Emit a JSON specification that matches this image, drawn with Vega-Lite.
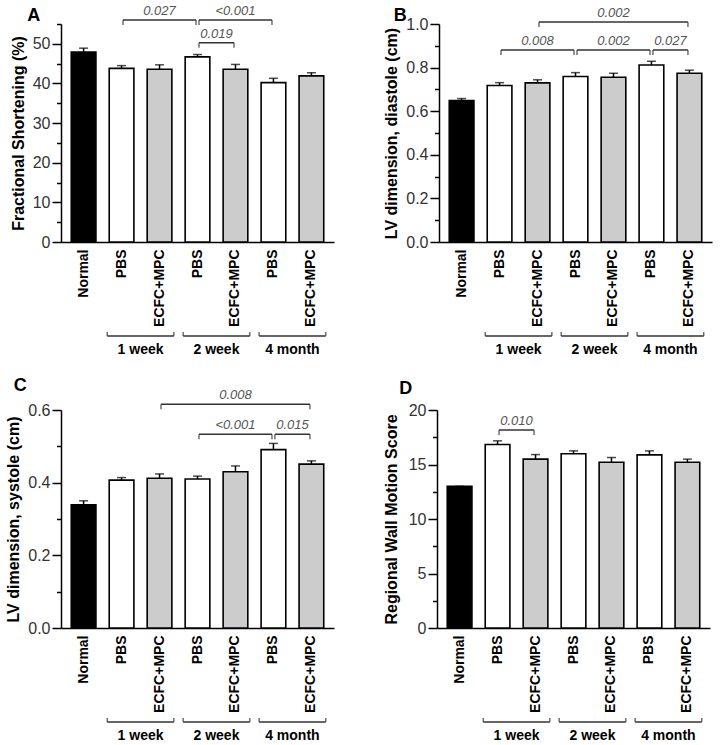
{
  "$schema": "https://vega.github.io/schema/vega-lite/v6.json",
  "padding": {"left": 5, "top": 5, "right": 5, "bottom": 2},
  "background": "white",
  "config": {
    "font": "Liberation Sans",
    "view": {"stroke": null},
    "axis": {"labelFont": "Liberation Sans", "titleFont": "Liberation Sans"},
    "title": {"font": "Liberation Sans"}
  },
  "datasets": {
    "bars": [
      {"panel": "A", "id": "Normal", "treatment": "Normal", "mean": 47.9, "upper": 48.9},
      {"panel": "A", "id": "PBS (1 week)", "treatment": "PBS", "mean": 43.8, "upper": 44.5},
      {"panel": "A", "id": "ECFC+MPC (1 week)", "treatment": "ECFC+MPC", "mean": 43.6, "upper": 44.7},
      {"panel": "A", "id": "PBS (2 week)", "treatment": "PBS", "mean": 46.7, "upper": 47.3},
      {"panel": "A", "id": "ECFC+MPC (2 week)", "treatment": "ECFC+MPC", "mean": 43.6, "upper": 44.8},
      {"panel": "A", "id": "PBS (4 month)", "treatment": "PBS", "mean": 40.2, "upper": 41.3},
      {"panel": "A", "id": "ECFC+MPC (4 month)", "treatment": "ECFC+MPC", "mean": 41.9, "upper": 42.7},
      {"panel": "B", "id": "Normal", "treatment": "Normal", "mean": 0.649, "upper": 0.658},
      {"panel": "B", "id": "PBS (1 week)", "treatment": "PBS", "mean": 0.718, "upper": 0.731},
      {"panel": "B", "id": "ECFC+MPC (1 week)", "treatment": "ECFC+MPC", "mean": 0.730, "upper": 0.744},
      {"panel": "B", "id": "PBS (2 week)", "treatment": "PBS", "mean": 0.759, "upper": 0.777},
      {"panel": "B", "id": "ECFC+MPC (2 week)", "treatment": "ECFC+MPC", "mean": 0.756, "upper": 0.774},
      {"panel": "B", "id": "PBS (4 month)", "treatment": "PBS", "mean": 0.812, "upper": 0.829},
      {"panel": "B", "id": "ECFC+MPC (4 month)", "treatment": "ECFC+MPC", "mean": 0.774, "upper": 0.788},
      {"panel": "C", "id": "Normal", "treatment": "Normal", "mean": 0.339, "upper": 0.350},
      {"panel": "C", "id": "PBS (1 week)", "treatment": "PBS", "mean": 0.407, "upper": 0.414},
      {"panel": "C", "id": "ECFC+MPC (1 week)", "treatment": "ECFC+MPC", "mean": 0.412, "upper": 0.424},
      {"panel": "C", "id": "PBS (2 week)", "treatment": "PBS", "mean": 0.410, "upper": 0.418},
      {"panel": "C", "id": "ECFC+MPC (2 week)", "treatment": "ECFC+MPC", "mean": 0.430, "upper": 0.446},
      {"panel": "C", "id": "PBS (4 month)", "treatment": "PBS", "mean": 0.491, "upper": 0.508},
      {"panel": "C", "id": "ECFC+MPC (4 month)", "treatment": "ECFC+MPC", "mean": 0.451, "upper": 0.460},
      {"panel": "D", "id": "Normal", "treatment": "Normal", "mean": 13.0, "upper": 13.0},
      {"panel": "D", "id": "PBS (1 week)", "treatment": "PBS", "mean": 16.83, "upper": 17.17},
      {"panel": "D", "id": "ECFC+MPC (1 week)", "treatment": "ECFC+MPC", "mean": 15.49, "upper": 15.91},
      {"panel": "D", "id": "PBS (2 week)", "treatment": "PBS", "mean": 15.98, "upper": 16.25},
      {"panel": "D", "id": "ECFC+MPC (2 week)", "treatment": "ECFC+MPC", "mean": 15.21, "upper": 15.64},
      {"panel": "D", "id": "PBS (4 month)", "treatment": "PBS", "mean": 15.88, "upper": 16.25},
      {"panel": "D", "id": "ECFC+MPC (4 month)", "treatment": "ECFC+MPC", "mean": 15.21, "upper": 15.49}
    ],
    "brackets": [
      {"panel": "A", "label": "0.027", "start": "PBS (1 week)", "end": "PBS (2 week)", "span": 2, "level": 56.0},
      {"panel": "A", "label": "<0.001", "start": "PBS (2 week)", "end": "PBS (4 month)", "span": 2, "level": 56.0},
      {"panel": "A", "label": "0.019", "start": "PBS (2 week)", "end": "ECFC+MPC (2 week)", "span": 1, "level": 50.3},
      {"panel": "B", "label": "0.002", "start": "ECFC+MPC (1 week)", "end": "ECFC+MPC (4 month)", "span": 4, "level": 1.009},
      {"panel": "B", "label": "0.008", "start": "PBS (1 week)", "end": "PBS (2 week)", "span": 2, "level": 0.881},
      {"panel": "B", "label": "0.002", "start": "PBS (2 week)", "end": "PBS (4 month)", "span": 2, "level": 0.881},
      {"panel": "B", "label": "0.027", "start": "PBS (4 month)", "end": "ECFC+MPC (4 month)", "span": 1, "level": 0.881},
      {"panel": "C", "label": "0.008", "start": "ECFC+MPC (1 week)", "end": "ECFC+MPC (4 month)", "span": 4, "level": 0.616},
      {"panel": "C", "label": "<0.001", "start": "PBS (2 week)", "end": "PBS (4 month)", "span": 2, "level": 0.533},
      {"panel": "C", "label": "0.015", "start": "PBS (4 month)", "end": "ECFC+MPC (4 month)", "span": 1, "level": 0.533},
      {"panel": "D", "label": "0.010", "start": "PBS (1 week)", "end": "ECFC+MPC (1 week)", "span": 1, "level": 18.17}
    ],
    "groups": [
      {"group": "1 week", "start": "PBS (1 week)", "end": "ECFC+MPC (1 week)"},
      {"group": "2 week", "start": "PBS (2 week)", "end": "ECFC+MPC (2 week)"},
      {"group": "4 month", "start": "PBS (4 month)", "end": "ECFC+MPC (4 month)"}
    ]
  },
  "spacing": 20,
  "vconcat": [
    {
      "spacing": 49,
      "hconcat": [
        {
          "bounds": "flush",
          "spacing": 90,
          "vconcat": [
            {
              "width": 273, "height": 218,
              "title": {"text": "A", "anchor": "start", "frame": "bounds", "dx": 17, "fontSize": 18, "fontWeight": "bold", "color": "#000", "offset": -20},
              "resolve": {"axis": {"y": "independent"}},
              "layer": [
                {"data": {"name": "bars"}, "transform": [{"filter": "datum.panel === 'A'"}],
                 "mark": {"type": "bar", "stroke": "#000", "strokeWidth": 1.6},
                 "encoding": {
                   "x": {"field": "id", "type": "nominal", "title": null, "scale": {"type": "band", "domain": ["Normal","PBS (1 week)","ECFC+MPC (1 week)","PBS (2 week)","ECFC+MPC (2 week)","PBS (4 month)","ECFC+MPC (4 month)"], "paddingInner": 0.35, "paddingOuter": 0.27},
                         "axis": {"labelExpr": "split(datum.value, ' (')[0]", "labelAngle": -90, "labelFontWeight": "bold", "labelFontSize": 14, "labelColor": "#000", "ticks": false, "tickSize": 0, "labelPadding": 7, "domainWidth": 1.5, "domainColor": "#000", "title": null}},
                   "y": {"field": "mean", "type": "quantitative", "scale": {"domain": [0, 55], "nice": false},
                         "axis": {"orient": "left", "values": [0,10,20,30,40,50], "title": "Fractional Shortening (%)", "tickSize": 9, "tickWidth": 1.5, "tickColor": "#000", "domainWidth": 1.5, "domainColor": "#000", "labelFontSize": 16, "labelColor": "#333", "labelPadding": 2, "titleFontSize": 16, "titleFontWeight": "bold", "titleColor": "#000", "titlePadding": 6, "grid": false}},
                   "fill": {"field": "treatment", "type": "nominal", "scale": {"domain": ["Normal","PBS","ECFC+MPC"], "range": ["#000000","#ffffff","#cccccc"]}, "legend": null}
                 }},
                {"data": {"name": "bars"}, "transform": [{"filter": "datum.panel === 'A'"}],
                 "mark": {"type": "rule", "strokeWidth": 1.5, "color": "#000"},
                 "encoding": {
                   "x": {"field": "id", "type": "nominal", "title": null, "scale": {"type": "band", "domain": ["Normal","PBS (1 week)","ECFC+MPC (1 week)","PBS (2 week)","ECFC+MPC (2 week)","PBS (4 month)","ECFC+MPC (4 month)"], "paddingInner": 0.35, "paddingOuter": 0.27}},
                   "y": {"field": "mean", "type": "quantitative", "axis": {"orient": "left", "values": [5,15,25,35,45,55], "labels": false, "domain": false, "title": null, "tickSize": 4.5, "tickWidth": 1.5, "tickColor": "#000", "grid": false}},
                   "y2": {"field": "upper"}
                 }},
                {"data": {"name": "bars"}, "transform": [{"filter": "datum.panel === 'A'"}],
                 "mark": {"type": "tick", "orient": "horizontal", "size": 9, "thickness": 1.5, "color": "#000"},
                 "encoding": {
                   "x": {"field": "id", "type": "nominal", "title": null, "scale": {"type": "band", "domain": ["Normal","PBS (1 week)","ECFC+MPC (1 week)","PBS (2 week)","ECFC+MPC (2 week)","PBS (4 month)","ECFC+MPC (4 month)"], "paddingInner": 0.35, "paddingOuter": 0.27}},
                   "y": {"field": "upper", "type": "quantitative", "axis": null}
                 }},
                {"data": {"name": "brackets"}, "transform": [{"filter": "datum.panel === 'A'"}],
                 "mark": {"type": "rule", "strokeWidth": 1.5, "color": "#333"},
                 "encoding": {
                   "x": {"field": "start", "type": "nominal", "title": null, "bandPosition": 0.56, "scale": {"type": "band", "domain": ["Normal","PBS (1 week)","ECFC+MPC (1 week)","PBS (2 week)","ECFC+MPC (2 week)","PBS (4 month)","ECFC+MPC (4 month)"], "paddingInner": 0.35, "paddingOuter": 0.27}},
                   "x2": {"field": "end", "bandPosition": 0.44},
                   "y": {"field": "level", "type": "quantitative", "axis": null}
                 }},
                {"data": {"name": "brackets"}, "transform": [{"filter": "datum.panel === 'A'"}],
                 "mark": {"type": "tick", "orient": "vertical", "size": 5, "thickness": 1.5, "yOffset": 2.5, "color": "#333"},
                 "encoding": {
                   "x": {"field": "start", "type": "nominal", "title": null, "bandPosition": 0.56, "scale": {"type": "band", "domain": ["Normal","PBS (1 week)","ECFC+MPC (1 week)","PBS (2 week)","ECFC+MPC (2 week)","PBS (4 month)","ECFC+MPC (4 month)"], "paddingInner": 0.35, "paddingOuter": 0.27}},
                   "y": {"field": "level", "type": "quantitative", "axis": null}
                 }},
                {"data": {"name": "brackets"}, "transform": [{"filter": "datum.panel === 'A'"}],
                 "mark": {"type": "tick", "orient": "vertical", "size": 5, "thickness": 1.5, "yOffset": 2.5, "color": "#333"},
                 "encoding": {
                   "x": {"field": "end", "type": "nominal", "title": null, "bandPosition": 0.44, "scale": {"type": "band", "domain": ["Normal","PBS (1 week)","ECFC+MPC (1 week)","PBS (2 week)","ECFC+MPC (2 week)","PBS (4 month)","ECFC+MPC (4 month)"], "paddingInner": 0.35, "paddingOuter": 0.27}},
                   "y": {"field": "level", "type": "quantitative", "axis": null}
                 }},
                {"data": {"name": "brackets"}, "transform": [{"filter": "datum.panel === 'A' && datum.span === 1"}],
                 "mark": {"type": "text", "fontStyle": "italic", "fontSize": 13, "color": "#555", "dy": -9, "baseline": "middle"},
                 "encoding": {
                   "x": {"field": "start", "type": "nominal", "title": null, "bandPosition": 1.269, "scale": {"type": "band", "domain": ["Normal","PBS (1 week)","ECFC+MPC (1 week)","PBS (2 week)","ECFC+MPC (2 week)","PBS (4 month)","ECFC+MPC (4 month)"], "paddingInner": 0.35, "paddingOuter": 0.27}},
                   "y": {"field": "level", "type": "quantitative", "axis": null},
                   "text": {"field": "label"}
                 }},
                {"data": {"name": "brackets"}, "transform": [{"filter": "datum.panel === 'A' && datum.span === 2"}],
                 "mark": {"type": "text", "fontStyle": "italic", "fontSize": 13, "color": "#555", "dy": -9, "baseline": "middle"},
                 "encoding": {
                   "x": {"field": "start", "type": "nominal", "title": null, "bandPosition": 2.038, "scale": {"type": "band", "domain": ["Normal","PBS (1 week)","ECFC+MPC (1 week)","PBS (2 week)","ECFC+MPC (2 week)","PBS (4 month)","ECFC+MPC (4 month)"], "paddingInner": 0.35, "paddingOuter": 0.27}},
                   "y": {"field": "level", "type": "quantitative", "axis": null},
                   "text": {"field": "label"}
                 }}
              ]
            },
            {
              "width": 273, "height": 8,
              "data": {"name": "groups"},
              "layer": [
                {"mark": {"type": "rule", "strokeWidth": 1.5, "color": "#333"},
                 "encoding": {"x": {"field": "start", "type": "nominal", "bandPosition": -0.08, "axis": null, "scale": {"type": "band", "domain": ["Normal","PBS (1 week)","ECFC+MPC (1 week)","PBS (2 week)","ECFC+MPC (2 week)","PBS (4 month)","ECFC+MPC (4 month)"], "paddingInner": 0.35, "paddingOuter": 0.27}},
                              "x2": {"field": "end", "bandPosition": 1.08}}},
                {"mark": {"type": "tick", "orient": "vertical", "size": 4, "thickness": 1.5, "yOffset": -2, "color": "#333"},
                 "encoding": {"x": {"field": "start", "type": "nominal", "bandPosition": -0.08, "axis": null, "scale": {"type": "band", "domain": ["Normal","PBS (1 week)","ECFC+MPC (1 week)","PBS (2 week)","ECFC+MPC (2 week)","PBS (4 month)","ECFC+MPC (4 month)"], "paddingInner": 0.35, "paddingOuter": 0.27}}}},
                {"mark": {"type": "tick", "orient": "vertical", "size": 4, "thickness": 1.5, "yOffset": -2, "color": "#333"},
                 "encoding": {"x": {"field": "end", "type": "nominal", "bandPosition": 1.08, "axis": null, "scale": {"type": "band", "domain": ["Normal","PBS (1 week)","ECFC+MPC (1 week)","PBS (2 week)","ECFC+MPC (2 week)","PBS (4 month)","ECFC+MPC (4 month)"], "paddingInner": 0.35, "paddingOuter": 0.27}}}},
                {"mark": {"type": "text", "fontWeight": "bold", "fontSize": 14, "dy": 14, "color": "#000"},
                 "encoding": {"x": {"field": "start", "type": "nominal", "bandPosition": 1.269, "axis": null, "scale": {"type": "band", "domain": ["Normal","PBS (1 week)","ECFC+MPC (1 week)","PBS (2 week)","ECFC+MPC (2 week)","PBS (4 month)","ECFC+MPC (4 month)"], "paddingInner": 0.35, "paddingOuter": 0.27}},
                              "text": {"field": "group"}}}
              ]
            }
          ]
        },
        {
          "bounds": "flush",
          "spacing": 90,
          "vconcat": [
            {
              "width": 273, "height": 218,
              "title": {"text": "B", "anchor": "start", "frame": "bounds", "dx": 10, "fontSize": 18, "fontWeight": "bold", "color": "#000", "offset": -18},
              "resolve": {"axis": {"y": "independent"}},
              "layer": [
                {"data": {"name": "bars"}, "transform": [{"filter": "datum.panel === 'B'"}],
                 "mark": {"type": "bar", "stroke": "#000", "strokeWidth": 1.6},
                 "encoding": {
                   "x": {"field": "id", "type": "nominal", "title": null, "scale": {"type": "band", "domain": ["Normal","PBS (1 week)","ECFC+MPC (1 week)","PBS (2 week)","ECFC+MPC (2 week)","PBS (4 month)","ECFC+MPC (4 month)"], "paddingInner": 0.35, "paddingOuter": 0.27},
                         "axis": {"labelExpr": "split(datum.value, ' (')[0]", "labelAngle": -90, "labelFontWeight": "bold", "labelFontSize": 14, "labelColor": "#000", "ticks": false, "tickSize": 0, "labelPadding": 7, "domainWidth": 1.5, "domainColor": "#000", "title": null}},
                   "y": {"field": "mean", "type": "quantitative", "scale": {"domain": [0, 1], "nice": false},
                         "axis": {"orient": "left", "values": [0,0.2,0.4,0.6,0.8,1.0], "format": ".1f", "title": "LV dimension, diastole (cm)", "tickSize": 9, "tickWidth": 1.5, "tickColor": "#000", "domainWidth": 1.5, "domainColor": "#000", "labelFontSize": 16, "labelColor": "#333", "labelPadding": 2, "titleFontSize": 16, "titleFontWeight": "bold", "titleColor": "#000", "titlePadding": 6, "grid": false}},
                   "fill": {"field": "treatment", "type": "nominal", "scale": {"domain": ["Normal","PBS","ECFC+MPC"], "range": ["#000000","#ffffff","#cccccc"]}, "legend": null}
                 }},
                {"data": {"name": "bars"}, "transform": [{"filter": "datum.panel === 'B'"}],
                 "mark": {"type": "rule", "strokeWidth": 1.5, "color": "#000"},
                 "encoding": {
                   "x": {"field": "id", "type": "nominal", "title": null, "scale": {"type": "band", "domain": ["Normal","PBS (1 week)","ECFC+MPC (1 week)","PBS (2 week)","ECFC+MPC (2 week)","PBS (4 month)","ECFC+MPC (4 month)"], "paddingInner": 0.35, "paddingOuter": 0.27}},
                   "y": {"field": "mean", "type": "quantitative", "axis": {"orient": "left", "values": [0.1,0.3,0.5,0.7,0.9], "labels": false, "domain": false, "title": null, "tickSize": 4.5, "tickWidth": 1.5, "tickColor": "#000", "grid": false}},
                   "y2": {"field": "upper"}
                 }},
                {"data": {"name": "bars"}, "transform": [{"filter": "datum.panel === 'B'"}],
                 "mark": {"type": "tick", "orient": "horizontal", "size": 9, "thickness": 1.5, "color": "#000"},
                 "encoding": {
                   "x": {"field": "id", "type": "nominal", "title": null, "scale": {"type": "band", "domain": ["Normal","PBS (1 week)","ECFC+MPC (1 week)","PBS (2 week)","ECFC+MPC (2 week)","PBS (4 month)","ECFC+MPC (4 month)"], "paddingInner": 0.35, "paddingOuter": 0.27}},
                   "y": {"field": "upper", "type": "quantitative", "axis": null}
                 }},
                {"data": {"name": "brackets"}, "transform": [{"filter": "datum.panel === 'B'"}],
                 "mark": {"type": "rule", "strokeWidth": 1.5, "color": "#333"},
                 "encoding": {
                   "x": {"field": "start", "type": "nominal", "title": null, "bandPosition": 0.56, "scale": {"type": "band", "domain": ["Normal","PBS (1 week)","ECFC+MPC (1 week)","PBS (2 week)","ECFC+MPC (2 week)","PBS (4 month)","ECFC+MPC (4 month)"], "paddingInner": 0.35, "paddingOuter": 0.27}},
                   "x2": {"field": "end", "bandPosition": 0.44},
                   "y": {"field": "level", "type": "quantitative", "axis": null}
                 }},
                {"data": {"name": "brackets"}, "transform": [{"filter": "datum.panel === 'B'"}],
                 "mark": {"type": "tick", "orient": "vertical", "size": 5, "thickness": 1.5, "yOffset": 2.5, "color": "#333"},
                 "encoding": {
                   "x": {"field": "start", "type": "nominal", "title": null, "bandPosition": 0.56, "scale": {"type": "band", "domain": ["Normal","PBS (1 week)","ECFC+MPC (1 week)","PBS (2 week)","ECFC+MPC (2 week)","PBS (4 month)","ECFC+MPC (4 month)"], "paddingInner": 0.35, "paddingOuter": 0.27}},
                   "y": {"field": "level", "type": "quantitative", "axis": null}
                 }},
                {"data": {"name": "brackets"}, "transform": [{"filter": "datum.panel === 'B'"}],
                 "mark": {"type": "tick", "orient": "vertical", "size": 5, "thickness": 1.5, "yOffset": 2.5, "color": "#333"},
                 "encoding": {
                   "x": {"field": "end", "type": "nominal", "title": null, "bandPosition": 0.44, "scale": {"type": "band", "domain": ["Normal","PBS (1 week)","ECFC+MPC (1 week)","PBS (2 week)","ECFC+MPC (2 week)","PBS (4 month)","ECFC+MPC (4 month)"], "paddingInner": 0.35, "paddingOuter": 0.27}},
                   "y": {"field": "level", "type": "quantitative", "axis": null}
                 }},
                {"data": {"name": "brackets"}, "transform": [{"filter": "datum.panel === 'B' && datum.span === 1"}],
                 "mark": {"type": "text", "fontStyle": "italic", "fontSize": 13, "color": "#555", "dy": -9, "baseline": "middle"},
                 "encoding": {
                   "x": {"field": "start", "type": "nominal", "title": null, "bandPosition": 1.269, "scale": {"type": "band", "domain": ["Normal","PBS (1 week)","ECFC+MPC (1 week)","PBS (2 week)","ECFC+MPC (2 week)","PBS (4 month)","ECFC+MPC (4 month)"], "paddingInner": 0.35, "paddingOuter": 0.27}},
                   "y": {"field": "level", "type": "quantitative", "axis": null},
                   "text": {"field": "label"}
                 }},
                {"data": {"name": "brackets"}, "transform": [{"filter": "datum.panel === 'B' && datum.span === 2"}],
                 "mark": {"type": "text", "fontStyle": "italic", "fontSize": 13, "color": "#555", "dy": -9, "baseline": "middle"},
                 "encoding": {
                   "x": {"field": "start", "type": "nominal", "title": null, "bandPosition": 2.038, "scale": {"type": "band", "domain": ["Normal","PBS (1 week)","ECFC+MPC (1 week)","PBS (2 week)","ECFC+MPC (2 week)","PBS (4 month)","ECFC+MPC (4 month)"], "paddingInner": 0.35, "paddingOuter": 0.27}},
                   "y": {"field": "level", "type": "quantitative", "axis": null},
                   "text": {"field": "label"}
                 }},
                {"data": {"name": "brackets"}, "transform": [{"filter": "datum.panel === 'B' && datum.span === 4"}],
                 "mark": {"type": "text", "fontStyle": "italic", "fontSize": 13, "color": "#555", "dy": -9, "baseline": "middle"},
                 "encoding": {
                   "x": {"field": "start", "type": "nominal", "title": null, "bandPosition": 3.577, "scale": {"type": "band", "domain": ["Normal","PBS (1 week)","ECFC+MPC (1 week)","PBS (2 week)","ECFC+MPC (2 week)","PBS (4 month)","ECFC+MPC (4 month)"], "paddingInner": 0.35, "paddingOuter": 0.27}},
                   "y": {"field": "level", "type": "quantitative", "axis": null},
                   "text": {"field": "label"}
                 }}
              ]
            },
            {
              "width": 273, "height": 8,
              "data": {"name": "groups"},
              "layer": [
                {"mark": {"type": "rule", "strokeWidth": 1.5, "color": "#333"},
                 "encoding": {"x": {"field": "start", "type": "nominal", "bandPosition": -0.08, "axis": null, "scale": {"type": "band", "domain": ["Normal","PBS (1 week)","ECFC+MPC (1 week)","PBS (2 week)","ECFC+MPC (2 week)","PBS (4 month)","ECFC+MPC (4 month)"], "paddingInner": 0.35, "paddingOuter": 0.27}},
                              "x2": {"field": "end", "bandPosition": 1.08}}},
                {"mark": {"type": "tick", "orient": "vertical", "size": 4, "thickness": 1.5, "yOffset": -2, "color": "#333"},
                 "encoding": {"x": {"field": "start", "type": "nominal", "bandPosition": -0.08, "axis": null, "scale": {"type": "band", "domain": ["Normal","PBS (1 week)","ECFC+MPC (1 week)","PBS (2 week)","ECFC+MPC (2 week)","PBS (4 month)","ECFC+MPC (4 month)"], "paddingInner": 0.35, "paddingOuter": 0.27}}}},
                {"mark": {"type": "tick", "orient": "vertical", "size": 4, "thickness": 1.5, "yOffset": -2, "color": "#333"},
                 "encoding": {"x": {"field": "end", "type": "nominal", "bandPosition": 1.08, "axis": null, "scale": {"type": "band", "domain": ["Normal","PBS (1 week)","ECFC+MPC (1 week)","PBS (2 week)","ECFC+MPC (2 week)","PBS (4 month)","ECFC+MPC (4 month)"], "paddingInner": 0.35, "paddingOuter": 0.27}}}},
                {"mark": {"type": "text", "fontWeight": "bold", "fontSize": 14, "dy": 14, "color": "#000"},
                 "encoding": {"x": {"field": "start", "type": "nominal", "bandPosition": 1.269, "axis": null, "scale": {"type": "band", "domain": ["Normal","PBS (1 week)","ECFC+MPC (1 week)","PBS (2 week)","ECFC+MPC (2 week)","PBS (4 month)","ECFC+MPC (4 month)"], "paddingInner": 0.35, "paddingOuter": 0.27}},
                              "text": {"field": "group"}}}
              ]
            }
          ]
        }
      ]
    },
    {
      "spacing": 49,
      "hconcat": [
        {
          "bounds": "flush",
          "spacing": 90,
          "vconcat": [
            {
              "width": 273, "height": 218,
              "title": {"text": "C", "anchor": "start", "frame": "bounds", "dx": 8, "fontSize": 18, "fontWeight": "bold", "color": "#000", "offset": -6},
              "resolve": {"axis": {"y": "independent"}},
              "layer": [
                {"data": {"name": "bars"}, "transform": [{"filter": "datum.panel === 'C'"}],
                 "mark": {"type": "bar", "stroke": "#000", "strokeWidth": 1.6},
                 "encoding": {
                   "x": {"field": "id", "type": "nominal", "title": null, "scale": {"type": "band", "domain": ["Normal","PBS (1 week)","ECFC+MPC (1 week)","PBS (2 week)","ECFC+MPC (2 week)","PBS (4 month)","ECFC+MPC (4 month)"], "paddingInner": 0.35, "paddingOuter": 0.27},
                         "axis": {"labelExpr": "split(datum.value, ' (')[0]", "labelAngle": -90, "labelFontWeight": "bold", "labelFontSize": 14, "labelColor": "#000", "ticks": false, "tickSize": 0, "labelPadding": 7, "domainWidth": 1.5, "domainColor": "#000", "title": null}},
                   "y": {"field": "mean", "type": "quantitative", "scale": {"domain": [0, 0.6], "nice": false},
                         "axis": {"orient": "left", "values": [0,0.2,0.4,0.6], "format": ".1f", "title": "LV dimension, systole (cm)", "tickSize": 9, "tickWidth": 1.5, "tickColor": "#000", "domainWidth": 1.5, "domainColor": "#000", "labelFontSize": 16, "labelColor": "#333", "labelPadding": 2, "titleFontSize": 16, "titleFontWeight": "bold", "titleColor": "#000", "titlePadding": 6, "grid": false}},
                   "fill": {"field": "treatment", "type": "nominal", "scale": {"domain": ["Normal","PBS","ECFC+MPC"], "range": ["#000000","#ffffff","#cccccc"]}, "legend": null}
                 }},
                {"data": {"name": "bars"}, "transform": [{"filter": "datum.panel === 'C'"}],
                 "mark": {"type": "rule", "strokeWidth": 1.5, "color": "#000"},
                 "encoding": {
                   "x": {"field": "id", "type": "nominal", "title": null, "scale": {"type": "band", "domain": ["Normal","PBS (1 week)","ECFC+MPC (1 week)","PBS (2 week)","ECFC+MPC (2 week)","PBS (4 month)","ECFC+MPC (4 month)"], "paddingInner": 0.35, "paddingOuter": 0.27}},
                   "y": {"field": "mean", "type": "quantitative", "axis": {"orient": "left", "values": [0.1,0.3,0.5], "labels": false, "domain": false, "title": null, "tickSize": 4.5, "tickWidth": 1.5, "tickColor": "#000", "grid": false}},
                   "y2": {"field": "upper"}
                 }},
                {"data": {"name": "bars"}, "transform": [{"filter": "datum.panel === 'C'"}],
                 "mark": {"type": "tick", "orient": "horizontal", "size": 9, "thickness": 1.5, "color": "#000"},
                 "encoding": {
                   "x": {"field": "id", "type": "nominal", "title": null, "scale": {"type": "band", "domain": ["Normal","PBS (1 week)","ECFC+MPC (1 week)","PBS (2 week)","ECFC+MPC (2 week)","PBS (4 month)","ECFC+MPC (4 month)"], "paddingInner": 0.35, "paddingOuter": 0.27}},
                   "y": {"field": "upper", "type": "quantitative", "axis": null}
                 }},
                {"data": {"name": "brackets"}, "transform": [{"filter": "datum.panel === 'C'"}],
                 "mark": {"type": "rule", "strokeWidth": 1.5, "color": "#333"},
                 "encoding": {
                   "x": {"field": "start", "type": "nominal", "title": null, "bandPosition": 0.56, "scale": {"type": "band", "domain": ["Normal","PBS (1 week)","ECFC+MPC (1 week)","PBS (2 week)","ECFC+MPC (2 week)","PBS (4 month)","ECFC+MPC (4 month)"], "paddingInner": 0.35, "paddingOuter": 0.27}},
                   "x2": {"field": "end", "bandPosition": 0.44},
                   "y": {"field": "level", "type": "quantitative", "axis": null}
                 }},
                {"data": {"name": "brackets"}, "transform": [{"filter": "datum.panel === 'C'"}],
                 "mark": {"type": "tick", "orient": "vertical", "size": 5, "thickness": 1.5, "yOffset": 2.5, "color": "#333"},
                 "encoding": {
                   "x": {"field": "start", "type": "nominal", "title": null, "bandPosition": 0.56, "scale": {"type": "band", "domain": ["Normal","PBS (1 week)","ECFC+MPC (1 week)","PBS (2 week)","ECFC+MPC (2 week)","PBS (4 month)","ECFC+MPC (4 month)"], "paddingInner": 0.35, "paddingOuter": 0.27}},
                   "y": {"field": "level", "type": "quantitative", "axis": null}
                 }},
                {"data": {"name": "brackets"}, "transform": [{"filter": "datum.panel === 'C'"}],
                 "mark": {"type": "tick", "orient": "vertical", "size": 5, "thickness": 1.5, "yOffset": 2.5, "color": "#333"},
                 "encoding": {
                   "x": {"field": "end", "type": "nominal", "title": null, "bandPosition": 0.44, "scale": {"type": "band", "domain": ["Normal","PBS (1 week)","ECFC+MPC (1 week)","PBS (2 week)","ECFC+MPC (2 week)","PBS (4 month)","ECFC+MPC (4 month)"], "paddingInner": 0.35, "paddingOuter": 0.27}},
                   "y": {"field": "level", "type": "quantitative", "axis": null}
                 }},
                {"data": {"name": "brackets"}, "transform": [{"filter": "datum.panel === 'C' && datum.span === 1"}],
                 "mark": {"type": "text", "fontStyle": "italic", "fontSize": 13, "color": "#555", "dy": -9, "baseline": "middle"},
                 "encoding": {
                   "x": {"field": "start", "type": "nominal", "title": null, "bandPosition": 1.269, "scale": {"type": "band", "domain": ["Normal","PBS (1 week)","ECFC+MPC (1 week)","PBS (2 week)","ECFC+MPC (2 week)","PBS (4 month)","ECFC+MPC (4 month)"], "paddingInner": 0.35, "paddingOuter": 0.27}},
                   "y": {"field": "level", "type": "quantitative", "axis": null},
                   "text": {"field": "label"}
                 }},
                {"data": {"name": "brackets"}, "transform": [{"filter": "datum.panel === 'C' && datum.span === 2"}],
                 "mark": {"type": "text", "fontStyle": "italic", "fontSize": 13, "color": "#555", "dy": -9, "baseline": "middle"},
                 "encoding": {
                   "x": {"field": "start", "type": "nominal", "title": null, "bandPosition": 2.038, "scale": {"type": "band", "domain": ["Normal","PBS (1 week)","ECFC+MPC (1 week)","PBS (2 week)","ECFC+MPC (2 week)","PBS (4 month)","ECFC+MPC (4 month)"], "paddingInner": 0.35, "paddingOuter": 0.27}},
                   "y": {"field": "level", "type": "quantitative", "axis": null},
                   "text": {"field": "label"}
                 }},
                {"data": {"name": "brackets"}, "transform": [{"filter": "datum.panel === 'C' && datum.span === 4"}],
                 "mark": {"type": "text", "fontStyle": "italic", "fontSize": 13, "color": "#555", "dy": -9, "baseline": "middle"},
                 "encoding": {
                   "x": {"field": "start", "type": "nominal", "title": null, "bandPosition": 3.577, "scale": {"type": "band", "domain": ["Normal","PBS (1 week)","ECFC+MPC (1 week)","PBS (2 week)","ECFC+MPC (2 week)","PBS (4 month)","ECFC+MPC (4 month)"], "paddingInner": 0.35, "paddingOuter": 0.27}},
                   "y": {"field": "level", "type": "quantitative", "axis": null},
                   "text": {"field": "label"}
                 }}
              ]
            },
            {
              "width": 273, "height": 8,
              "data": {"name": "groups"},
              "layer": [
                {"mark": {"type": "rule", "strokeWidth": 1.5, "color": "#333"},
                 "encoding": {"x": {"field": "start", "type": "nominal", "bandPosition": -0.08, "axis": null, "scale": {"type": "band", "domain": ["Normal","PBS (1 week)","ECFC+MPC (1 week)","PBS (2 week)","ECFC+MPC (2 week)","PBS (4 month)","ECFC+MPC (4 month)"], "paddingInner": 0.35, "paddingOuter": 0.27}},
                              "x2": {"field": "end", "bandPosition": 1.08}}},
                {"mark": {"type": "tick", "orient": "vertical", "size": 4, "thickness": 1.5, "yOffset": -2, "color": "#333"},
                 "encoding": {"x": {"field": "start", "type": "nominal", "bandPosition": -0.08, "axis": null, "scale": {"type": "band", "domain": ["Normal","PBS (1 week)","ECFC+MPC (1 week)","PBS (2 week)","ECFC+MPC (2 week)","PBS (4 month)","ECFC+MPC (4 month)"], "paddingInner": 0.35, "paddingOuter": 0.27}}}},
                {"mark": {"type": "tick", "orient": "vertical", "size": 4, "thickness": 1.5, "yOffset": -2, "color": "#333"},
                 "encoding": {"x": {"field": "end", "type": "nominal", "bandPosition": 1.08, "axis": null, "scale": {"type": "band", "domain": ["Normal","PBS (1 week)","ECFC+MPC (1 week)","PBS (2 week)","ECFC+MPC (2 week)","PBS (4 month)","ECFC+MPC (4 month)"], "paddingInner": 0.35, "paddingOuter": 0.27}}}},
                {"mark": {"type": "text", "fontWeight": "bold", "fontSize": 14, "dy": 14, "color": "#000"},
                 "encoding": {"x": {"field": "start", "type": "nominal", "bandPosition": 1.269, "axis": null, "scale": {"type": "band", "domain": ["Normal","PBS (1 week)","ECFC+MPC (1 week)","PBS (2 week)","ECFC+MPC (2 week)","PBS (4 month)","ECFC+MPC (4 month)"], "paddingInner": 0.35, "paddingOuter": 0.27}},
                              "text": {"field": "group"}}}
              ]
            }
          ]
        },
        {
          "bounds": "flush",
          "spacing": 90,
          "vconcat": [
            {
              "width": 273, "height": 218,
              "title": {"text": "D", "anchor": "start", "frame": "bounds", "dx": 16, "fontSize": 18, "fontWeight": "bold", "color": "#000", "offset": 4},
              "resolve": {"axis": {"y": "independent"}},
              "layer": [
                {"data": {"name": "bars"}, "transform": [{"filter": "datum.panel === 'D'"}],
                 "mark": {"type": "bar", "stroke": "#000", "strokeWidth": 1.6},
                 "encoding": {
                   "x": {"field": "id", "type": "nominal", "title": null, "scale": {"type": "band", "domain": ["Normal","PBS (1 week)","ECFC+MPC (1 week)","PBS (2 week)","ECFC+MPC (2 week)","PBS (4 month)","ECFC+MPC (4 month)"], "paddingInner": 0.35, "paddingOuter": 0.27},
                         "axis": {"labelExpr": "split(datum.value, ' (')[0]", "labelAngle": -90, "labelFontWeight": "bold", "labelFontSize": 14, "labelColor": "#000", "ticks": false, "tickSize": 0, "labelPadding": 7, "domainWidth": 1.5, "domainColor": "#000", "title": null}},
                   "y": {"field": "mean", "type": "quantitative", "scale": {"domain": [0, 20], "nice": false},
                         "axis": {"orient": "left", "values": [0,5,10,15,20], "format": "d", "title": "Regional Wall Motion Score", "tickSize": 9, "tickWidth": 1.5, "tickColor": "#000", "domainWidth": 1.5, "domainColor": "#000", "labelFontSize": 16, "labelColor": "#333", "labelPadding": 2, "titleFontSize": 16, "titleFontWeight": "bold", "titleColor": "#000", "titlePadding": 9, "grid": false}},
                   "fill": {"field": "treatment", "type": "nominal", "scale": {"domain": ["Normal","PBS","ECFC+MPC"], "range": ["#000000","#ffffff","#cccccc"]}, "legend": null}
                 }},
                {"data": {"name": "bars"}, "transform": [{"filter": "datum.panel === 'D'"}],
                 "mark": {"type": "rule", "strokeWidth": 1.5, "color": "#000"},
                 "encoding": {
                   "x": {"field": "id", "type": "nominal", "title": null, "scale": {"type": "band", "domain": ["Normal","PBS (1 week)","ECFC+MPC (1 week)","PBS (2 week)","ECFC+MPC (2 week)","PBS (4 month)","ECFC+MPC (4 month)"], "paddingInner": 0.35, "paddingOuter": 0.27}},
                   "y": {"field": "mean", "type": "quantitative", "axis": {"orient": "left", "values": [2.5,7.5,12.5,17.5], "labels": false, "domain": false, "title": null, "tickSize": 4.5, "tickWidth": 1.5, "tickColor": "#000", "grid": false}},
                   "y2": {"field": "upper"}
                 }},
                {"data": {"name": "bars"}, "transform": [{"filter": "datum.panel === 'D'"}],
                 "mark": {"type": "tick", "orient": "horizontal", "size": 9, "thickness": 1.5, "color": "#000"},
                 "encoding": {
                   "x": {"field": "id", "type": "nominal", "title": null, "scale": {"type": "band", "domain": ["Normal","PBS (1 week)","ECFC+MPC (1 week)","PBS (2 week)","ECFC+MPC (2 week)","PBS (4 month)","ECFC+MPC (4 month)"], "paddingInner": 0.35, "paddingOuter": 0.27}},
                   "y": {"field": "upper", "type": "quantitative", "axis": null}
                 }},
                {"data": {"name": "brackets"}, "transform": [{"filter": "datum.panel === 'D'"}],
                 "mark": {"type": "rule", "strokeWidth": 1.5, "color": "#333"},
                 "encoding": {
                   "x": {"field": "start", "type": "nominal", "title": null, "bandPosition": 0.56, "scale": {"type": "band", "domain": ["Normal","PBS (1 week)","ECFC+MPC (1 week)","PBS (2 week)","ECFC+MPC (2 week)","PBS (4 month)","ECFC+MPC (4 month)"], "paddingInner": 0.35, "paddingOuter": 0.27}},
                   "x2": {"field": "end", "bandPosition": 0.44},
                   "y": {"field": "level", "type": "quantitative", "axis": null}
                 }},
                {"data": {"name": "brackets"}, "transform": [{"filter": "datum.panel === 'D'"}],
                 "mark": {"type": "tick", "orient": "vertical", "size": 5, "thickness": 1.5, "yOffset": 2.5, "color": "#333"},
                 "encoding": {
                   "x": {"field": "start", "type": "nominal", "title": null, "bandPosition": 0.56, "scale": {"type": "band", "domain": ["Normal","PBS (1 week)","ECFC+MPC (1 week)","PBS (2 week)","ECFC+MPC (2 week)","PBS (4 month)","ECFC+MPC (4 month)"], "paddingInner": 0.35, "paddingOuter": 0.27}},
                   "y": {"field": "level", "type": "quantitative", "axis": null}
                 }},
                {"data": {"name": "brackets"}, "transform": [{"filter": "datum.panel === 'D'"}],
                 "mark": {"type": "tick", "orient": "vertical", "size": 5, "thickness": 1.5, "yOffset": 2.5, "color": "#333"},
                 "encoding": {
                   "x": {"field": "end", "type": "nominal", "title": null, "bandPosition": 0.44, "scale": {"type": "band", "domain": ["Normal","PBS (1 week)","ECFC+MPC (1 week)","PBS (2 week)","ECFC+MPC (2 week)","PBS (4 month)","ECFC+MPC (4 month)"], "paddingInner": 0.35, "paddingOuter": 0.27}},
                   "y": {"field": "level", "type": "quantitative", "axis": null}
                 }},
                {"data": {"name": "brackets"}, "transform": [{"filter": "datum.panel === 'D' && datum.span === 1"}],
                 "mark": {"type": "text", "fontStyle": "italic", "fontSize": 13, "color": "#555", "dy": -9, "baseline": "middle"},
                 "encoding": {
                   "x": {"field": "start", "type": "nominal", "title": null, "bandPosition": 1.269, "scale": {"type": "band", "domain": ["Normal","PBS (1 week)","ECFC+MPC (1 week)","PBS (2 week)","ECFC+MPC (2 week)","PBS (4 month)","ECFC+MPC (4 month)"], "paddingInner": 0.35, "paddingOuter": 0.27}},
                   "y": {"field": "level", "type": "quantitative", "axis": null},
                   "text": {"field": "label"}
                 }}
              ]
            },
            {
              "width": 273, "height": 8,
              "data": {"name": "groups"},
              "layer": [
                {"mark": {"type": "rule", "strokeWidth": 1.5, "color": "#333"},
                 "encoding": {"x": {"field": "start", "type": "nominal", "bandPosition": -0.08, "axis": null, "scale": {"type": "band", "domain": ["Normal","PBS (1 week)","ECFC+MPC (1 week)","PBS (2 week)","ECFC+MPC (2 week)","PBS (4 month)","ECFC+MPC (4 month)"], "paddingInner": 0.35, "paddingOuter": 0.27}},
                              "x2": {"field": "end", "bandPosition": 1.08}}},
                {"mark": {"type": "tick", "orient": "vertical", "size": 4, "thickness": 1.5, "yOffset": -2, "color": "#333"},
                 "encoding": {"x": {"field": "start", "type": "nominal", "bandPosition": -0.08, "axis": null, "scale": {"type": "band", "domain": ["Normal","PBS (1 week)","ECFC+MPC (1 week)","PBS (2 week)","ECFC+MPC (2 week)","PBS (4 month)","ECFC+MPC (4 month)"], "paddingInner": 0.35, "paddingOuter": 0.27}}}},
                {"mark": {"type": "tick", "orient": "vertical", "size": 4, "thickness": 1.5, "yOffset": -2, "color": "#333"},
                 "encoding": {"x": {"field": "end", "type": "nominal", "bandPosition": 1.08, "axis": null, "scale": {"type": "band", "domain": ["Normal","PBS (1 week)","ECFC+MPC (1 week)","PBS (2 week)","ECFC+MPC (2 week)","PBS (4 month)","ECFC+MPC (4 month)"], "paddingInner": 0.35, "paddingOuter": 0.27}}}},
                {"mark": {"type": "text", "fontWeight": "bold", "fontSize": 14, "dy": 14, "color": "#000"},
                 "encoding": {"x": {"field": "start", "type": "nominal", "bandPosition": 1.269, "axis": null, "scale": {"type": "band", "domain": ["Normal","PBS (1 week)","ECFC+MPC (1 week)","PBS (2 week)","ECFC+MPC (2 week)","PBS (4 month)","ECFC+MPC (4 month)"], "paddingInner": 0.35, "paddingOuter": 0.27}},
                              "text": {"field": "group"}}}
              ]
            }
          ]
        }
      ]
    }
  ]
}
